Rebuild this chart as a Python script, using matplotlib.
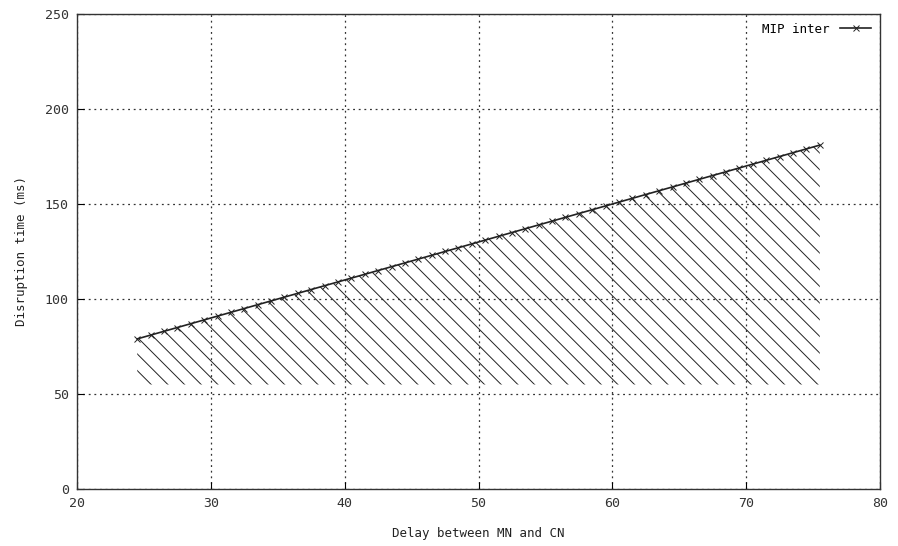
import matplotlib.pyplot as plt

# --- Datos ---
delay = [24.5, 25.5, 26.5, 27.5, 28.5, 29.5, 30.5, 31.5, 32.5, 33.5,
         34.5, 35.5, 36.5, 37.5, 38.5, 39.5, 40.5, 41.5, 42.5, 43.5,
         44.5, 45.5, 46.5, 47.5, 48.5, 49.5, 50.5, 51.5, 52.5, 53.5,
         54.5, 55.5, 56.5, 57.5, 58.5, 59.5, 60.5, 61.5, 62.5, 63.5,
         64.5, 65.5, 66.5, 67.5, 68.5, 69.5, 70.5, 71.5, 72.5, 73.5,
         74.5, 75.5]
disruption = [79, 81, 83, 85, 87, 89, 91, 93, 95, 97,
              99, 101, 103, 105, 107, 109, 111, 113, 115, 117,
              119, 121, 123, 125, 127, 129, 131, 133, 135, 137,
              139, 141, 143, 145, 147, 149, 151, 153, 155, 157,
              159, 161, 163, 165, 167, 169, 171, 173, 175, 177,
              179, 181]
fill_base = 55

xticks = [20, 30, 40, 50, 60, 70, 80]
yticks = [0, 50, 100, 150, 200, 250]

plt.rcParams['font.family'] = 'DejaVu Sans Mono'
plt.rcParams['font.size'] = 9
plt.rcParams['hatch.linewidth'] = 0.7

fig = plt.figure(figsize=(8.98, 5.46), dpi=100)
ax = fig.add_axes([77 / 898, 1 - 489 / 546, 803 / 898, 475 / 546])

# --- Area rayada ---
ax.fill_between(delay, fill_base, disruption, facecolor='none',
                edgecolor='#222222', hatch='\\\\', linewidth=0)
ax.plot(delay, disruption, color='#222222', linewidth=1.2, marker='x',
        markersize=5, markeredgewidth=0.7, label='MIP inter')

ax.set_xlim(20, 80)
ax.set_ylim(0, 250)
ax.set_xticks(xticks)
ax.set_yticks(yticks)
ax.tick_params(direction='in', length=5, top=False, right=False, pad=6,
               labelcolor='#333333', labelsize=9.5)
ax.grid(True, linestyle=(0, (1.5, 3)), color='#333333', linewidth=0.9)
ax.set_axisbelow(True)
for s in ax.spines.values():
    s.set_linewidth(1.0)
    s.set_color('#333333')

ax.set_xlabel('Delay between MN and CN', labelpad=12, color='#222222')
ax.set_ylabel('Disruption time (ms)', labelpad=12, color='#222222')

leg = ax.legend(loc='upper right', frameon=False, markerfirst=False,
                handlelength=2.5, borderaxespad=0.3)

plt.savefig('out.png', dpi=100)
